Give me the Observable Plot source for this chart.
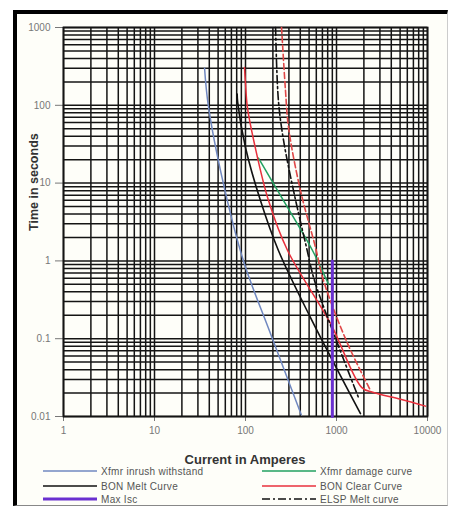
<!DOCTYPE html>
<html>
<head>
<meta charset="utf-8">
<script src="https://cdn.jsdelivr.net/npm/d3@7"></script>
<script src="https://cdn.jsdelivr.net/npm/@observablehq/plot@0.6"></script>
<style>
  html, body { margin: 0; padding: 0; background: #ffffff; }
  #wrap { position: relative; width: 450px; height: 506px; overflow: hidden; font-family: "Liberation Sans", Arial, sans-serif; }
  #frame { position: absolute; left: 13px; top: 10px; width: 435px; height: 496px; box-sizing: border-box;
           border-left: 4px solid #000; border-top: 4px solid #000; border-right: 1px solid #ccc; border-bottom: 1px solid #888;
           background: #fefef9; }
  #chart { position: absolute; left: 0; top: 0; }
  #xlabel { position: absolute; left: 63px; width: 364px; top: 452px; text-align: center; font-weight: bold; font-size: 13px; color: #333; }
  .leg { position: absolute; display: flex; align-items: center; font-size: 10px; color: #555; letter-spacing: 0.3px; white-space: nowrap; }
  .leg svg { margin-right: 4px; }
</style>
</head>
<body>
<div id="wrap">
  <div id="frame"></div>
  <div id="chart"></div>
  <div id="xlabel">Current in Amperes</div>
  <div id="legend"></div>
</div>
<script>
// Tick values
const xTicks = [1, 10, 100, 1000, 10000];
const yTicks = [0.01, 0.1, 1, 10, 100, 1000];
const multiples = [1, 2, 3, 4, 5, 6, 7, 8, 9];

// Series (current in A, time in s)
const inrushI = [35.5, 39, 57, 95, 188, 410];
const inrushT = [300, 100, 10, 1, 0.117, 0.0105];

const damageI = [139, 243, 545, 817];
const damageT = [21, 6.9, 1.36, 0.5];

const bonMeltI = [81, 82, 100, 146, 230, 518, 1835];
const bonMeltT = [140, 110, 28.7, 5.97, 1.36, 0.187, 0.0109];

const bonClearI = [97.5, 99.6, 105, 128, 179, 290, 859, 1900, 2500, 5050, 9500];
const bonClearT = [306, 208, 94, 28.7, 5.97, 1.36, 0.157, 0.0235, 0.0205, 0.0167, 0.0136];

const iscI = [900, 900];
const iscT = [1, 0.01];

const elspMeltI = [214, 230, 262, 337, 468, 573, 1025, 1745];
const elspMeltT = [1000, 115, 35.3, 8.0, 1.49, 0.56, 0.087, 0.0175];

const elspClearI = [249, 275, 297, 402, 588, 719, 1321, 2364];
const elspClearT = [1000, 155, 51.9, 8.0, 1.49, 0.56, 0.087, 0.0216];

const seriesNames = ["Xfmr inrush withstand", "Xfmr damage curve", "BON Melt Curve", "BON Clear Curve", "Max Isc", "ELSP Melt curve"];

const toRows = (I, T) => I.map((v, i) => ({I: v, t: T[i]}));

const xGrid = xTicks.slice(0, -1).flatMap(d => multiples.map(k => d * k)).concat([xTicks[xTicks.length - 1]]);
const yGrid = yTicks.slice(0, -1).flatMap(d => multiples.map(k => d * k)).concat([yTicks[yTicks.length - 1]]);

const styles = {
  inrush: {stroke: "#7088c0", strokeWidth: 1.5},
  damage: {stroke: "#22a060", strokeWidth: 1.5},
  bonMelt: {stroke: "#111111", strokeWidth: 1.6},
  bonClear: {stroke: "#e8303c", strokeWidth: 1.5},
  isc: {stroke: "#6a30d0", strokeWidth: 3},
  elspMelt: {stroke: "#111111", strokeWidth: 1.6, strokeDasharray: "8,3,2,3"},
  elspClear: {stroke: "#e04848", strokeWidth: 1.6, strokeDasharray: "6,3"}
};

const gridStyle = {stroke: "#141414", strokeWidth: 1.5};

const chart = Plot.plot({
  width: 450,
  height: 445,
  marginLeft: 63,
  marginRight: 23,
  marginTop: 27,
  marginBottom: 29,
  style: {fontSize: "10px", color: "#777", fontFamily: "Liberation Sans, Arial, sans-serif", background: "transparent"},
  x: {type: "log", domain: [1, 10000], ticks: xTicks, tickFormat: d => String(d), tickSize: 5, tickPadding: 5, label: null},
  y: {type: "log", domain: [0.01, 1000], ticks: yTicks, tickFormat: d => String(d), tickSize: 8, tickPadding: 5, label: null},
  marks: [
    Plot.ruleX(xGrid, gridStyle),
    Plot.ruleY(yGrid, gridStyle),
    Plot.frame({stroke: "#141414", strokeWidth: 1.8}),
    Plot.line(toRows(inrushI, inrushT), {x: "I", y: "t", curve: "catmull-rom", ...styles.inrush}),
    Plot.line(toRows(damageI, damageT), {x: "I", y: "t", curve: "catmull-rom", ...styles.damage}),
    Plot.line(toRows(bonMeltI, bonMeltT), {x: "I", y: "t", curve: "catmull-rom", ...styles.bonMelt}),
    Plot.line(toRows(bonClearI, bonClearT), {x: "I", y: "t", curve: "catmull-rom", ...styles.bonClear}),
    Plot.line(toRows(elspMeltI, elspMeltT), {x: "I", y: "t", curve: "catmull-rom", ...styles.elspMelt}),
    Plot.line(toRows(elspClearI, elspClearT), {x: "I", y: "t", curve: "catmull-rom", ...styles.elspClear}),
    Plot.line(toRows(iscI, iscT), {x: "I", y: "t", ...styles.isc}),
    Plot.text(["Time in seconds"], {frameAnchor: "left", dx: -30, dy: 9, rotate: -90, fontWeight: "bold", fontSize: 12.5, fill: "#333"})
  ]
});
document.getElementById("chart").appendChild(chart);

// Legend
const legendItems = [
  {name: seriesNames[0], st: styles.inrush, left: 43, top: 471},
  {name: seriesNames[1], st: styles.damage, left: 262, top: 471},
  {name: seriesNames[2], st: styles.bonMelt, left: 43, top: 486},
  {name: seriesNames[3], st: styles.bonClear, left: 262, top: 486},
  {name: seriesNames[4], st: styles.isc, left: 43, top: 499},
  {name: seriesNames[5], st: styles.elspMelt, left: 262, top: 499}
];
const legend = document.getElementById("legend");
for (const item of legendItems) {
  const div = document.createElement("div");
  div.className = "leg";
  div.style.left = item.left + "px";
  div.style.top = (item.top - 7) + "px";
  div.style.height = "14px";
  const ns = "http://www.w3.org/2000/svg";
  const svg = document.createElementNS(ns, "svg");
  svg.setAttribute("width", 54);
  svg.setAttribute("height", 14);
  const ln = document.createElementNS(ns, "line");
  ln.setAttribute("x1", 0); ln.setAttribute("x2", 54);
  ln.setAttribute("y1", 7); ln.setAttribute("y2", 7);
  ln.setAttribute("stroke", item.st.stroke);
  ln.setAttribute("stroke-width", item.st.strokeWidth);
  if (item.st.strokeDasharray) ln.setAttribute("stroke-dasharray", item.st.strokeDasharray);
  svg.appendChild(ln);
  div.appendChild(svg);
  const span = document.createElement("span");
  span.textContent = item.name;
  div.appendChild(span);
  legend.appendChild(div);
}
</script>
</body>
</html>
